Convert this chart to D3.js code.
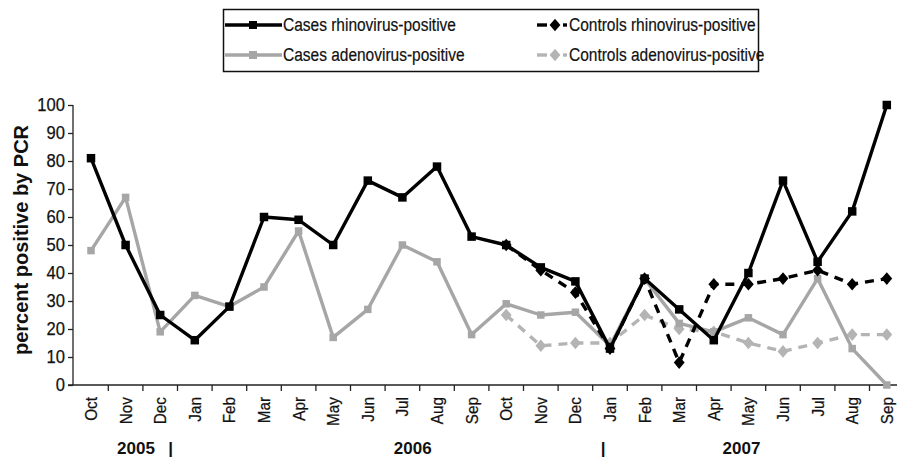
<!DOCTYPE html>
<html><head><meta charset="utf-8">
<script src="https://cdn.jsdelivr.net/npm/d3@7"></script>
<style>body{margin:0;background:#fff}svg{display:block;font-family:"Liberation Sans",Arial,sans-serif}</style>
</head><body><svg id="c" width="897" height="463"></svg>
<script>
const months = ["Oct","Nov","Dec","Jan","Feb","Mar","Apr","May","Jun","Jul","Aug","Sep",
  "Oct","Nov","Dec","Jan","Feb","Mar","Apr","May","Jun","Jul","Aug","Sep"];
const casesRhino = [81,50,25,16,28,60,59,50,73,67,78,53,50,42,37,13,38,27,16,40,73,44,62,100];
const casesAdeno = [48,67,19,32,28,35,55,17,27,50,44,18,29,25,26,14,38,22,19,24,18,38,13,0];
const controlsRhino = [null,null,null,null,null,null,null,null,null,null,null,null,50,41,33,13,38,8,36,36,38,41,36,38];
const controlsAdeno = [null,null,null,null,null,null,null,null,null,null,null,null,25,14,15,15,25,20,19,15,12,15,18,18];
const yTicks = [0,10,20,30,40,50,60,70,80,90,100];
const yearLabels = [{t:"2005",i:1.3},{t:"|",i:2.3},{t:"2006",i:9.3},{t:"|",i:14.8},{t:"2007",i:18.8}];
const legendItems = [
  {label:"Cases rhinovirus-positive", color:"#000", dash:false},
  {label:"Controls rhinovirus-positive", color:"#000", dash:true},
  {label:"Cases adenovirus-positive", color:"#a6a6a6", dash:false},
  {label:"Controls adenovirus-positive", color:"#b4b4b4", dash:true}
];

const svg = d3.select("#c");
const condense = (sel, f) => sel.each(function(){
  const L = this.getComputedTextLength();
  d3.select(this).attr("textLength", L*f).attr("lengthAdjust","spacingAndGlyphs");
});
const idx = d3.range(months.length);
const x = d3.scaleBand().domain(idx).range([73.7, 904.1]).paddingInner(0).paddingOuter(0);
const y = d3.scaleLinear().domain([0,100]).range([385,105]);
const cx = i => x(i) + x.bandwidth()/2;

// y axis
const yAxis = d3.axisLeft(y).tickValues(yTicks).tickSize(5).tickPadding(3);
const gy = svg.append("g").attr("transform","translate(73,0)").call(yAxis);
gy.select(".domain").attr("stroke","#222").attr("stroke-width",1.3).attr("d","M0,385V105");
gy.selectAll(".tick line").attr("stroke","#222").attr("stroke-width",1.3);
gy.selectAll(".tick text").attr("font-size",18).attr("fill","#111").attr("font-family",null)
  .attr("stroke","#111").attr("stroke-width",0.25).call(condense, 0.92);

// x axis
const xAxis = d3.axisBottom(x).tickFormat(i => months[i]).tickSize(0).tickPadding(0);
const gx = svg.append("g").attr("transform","translate(0,385)").call(xAxis);
gx.select(".domain").attr("stroke","#222").attr("stroke-width",1.3).attr("d","M68,0H897");
gx.selectAll(".tick text").attr("font-size",17).attr("fill","#111")
  .attr("font-family",null).attr("stroke","#111").attr("stroke-width",0.25)
  .attr("transform","rotate(-90)").attr("text-anchor","end")
  .attr("x",-12).attr("y",0).attr("dy","0.35em").call(condense, 0.9);
gx.selectAll(".bt").data(idx.slice(1)).enter().append("line")
  .attr("x1",i=>x(i)).attr("x2",i=>x(i)).attr("y1",0).attr("y2",6)
  .attr("stroke","#222").attr("stroke-width",1.3);

// year labels
svg.selectAll(".yr").data(yearLabels).enter().append("text")
  .attr("x",d=>cx(0)+d.i*x.step()).attr("y",454).attr("text-anchor","middle")
  .attr("font-size",17).attr("font-weight","bold").attr("fill","#111").text(d=>d.t);

// y title
svg.append("text").attr("transform","translate(28,240) rotate(-90)").attr("text-anchor","middle")
  .attr("font-size",20).attr("font-weight","bold").attr("fill","#111").text("percent positive by PCR");

const line = d3.line().defined(d=>d!=null).x((d,i)=>cx(i)).y(d=>y(d));
const series = [
  {data:controlsAdeno, color:"#b4b4b4", dash:"9,7", shape:"diamond", size:9},
  {data:casesAdeno, color:"#a6a6a6", dash:null, shape:"square", size:7.5},
  {data:controlsRhino, color:"#000", dash:"9,7", shape:"diamond", size:9},
  {data:casesRhino, color:"#000", dash:null, shape:"square", size:8.5}
];
const sym = (shape,s) => shape==="square" ? `M${-s/2},${-s/2}h${s}v${s}h${-s}Z` : `M0,${-s*0.7}L${s*0.6},0L0,${s*0.7}L${-s*0.6},0Z`;
series.forEach(s=>{
  svg.append("path").datum(s.data).attr("d",line).attr("fill","none")
    .attr("stroke",s.color).attr("stroke-width",3.4).attr("stroke-dasharray",s.dash)
    .attr("stroke-linejoin","round");
  svg.append("g").selectAll("path").data(s.data.map((v,i)=>({v,i})).filter(d=>d.v!=null))
    .enter().append("path").attr("d",sym(s.shape,s.size))
    .attr("transform",d=>`translate(${cx(d.i)},${y(d.v)})`).attr("fill",s.color);
});

// legend
const lg = svg.append("g");
lg.append("rect").attr("x",223.5).attr("y",9.5).attr("width",535).attr("height",62)
  .attr("fill","#fff").attr("stroke","#111").attr("stroke-width",1.5);
const cols = [225, 535], rows = [25, 55];
legendItems.forEach((d,k)=>{
  const c = k%2, r = Math.floor(k/2);
  const x0 = cols[c], yy = rows[r];
  const g = lg.append("g");
  if(!d.dash){
    g.append("line").attr("x1",x0).attr("x2",x0+57).attr("y1",yy).attr("y2",yy)
      .attr("stroke",d.color).attr("stroke-width",3.4);
    g.append("path").attr("d",sym("square",8)).attr("transform",`translate(${x0+28},${yy})`).attr("fill",d.color);
  } else {
    g.append("line").attr("x1",x0+2).attr("x2",x0+12).attr("y1",yy).attr("y2",yy)
      .attr("stroke",d.color).attr("stroke-width",3.4);
    g.append("path").attr("d",sym("diamond",9)).attr("transform",`translate(${x0+20},${yy})`).attr("fill",d.color);
    g.append("line").attr("x1",x0+28).attr("x2",x0+32).attr("y1",yy).attr("y2",yy)
      .attr("stroke",d.color).attr("stroke-width",3.4);
  }
  g.append("text").attr("x", c===0 ? x0+58 : x0+34).attr("y",yy).attr("dy","0.35em")
    .attr("font-size",18).attr("fill","#111").attr("stroke","#111").attr("stroke-width",0.2)
    .text(d.label).call(condense, 0.86);
});
</script></body></html>
